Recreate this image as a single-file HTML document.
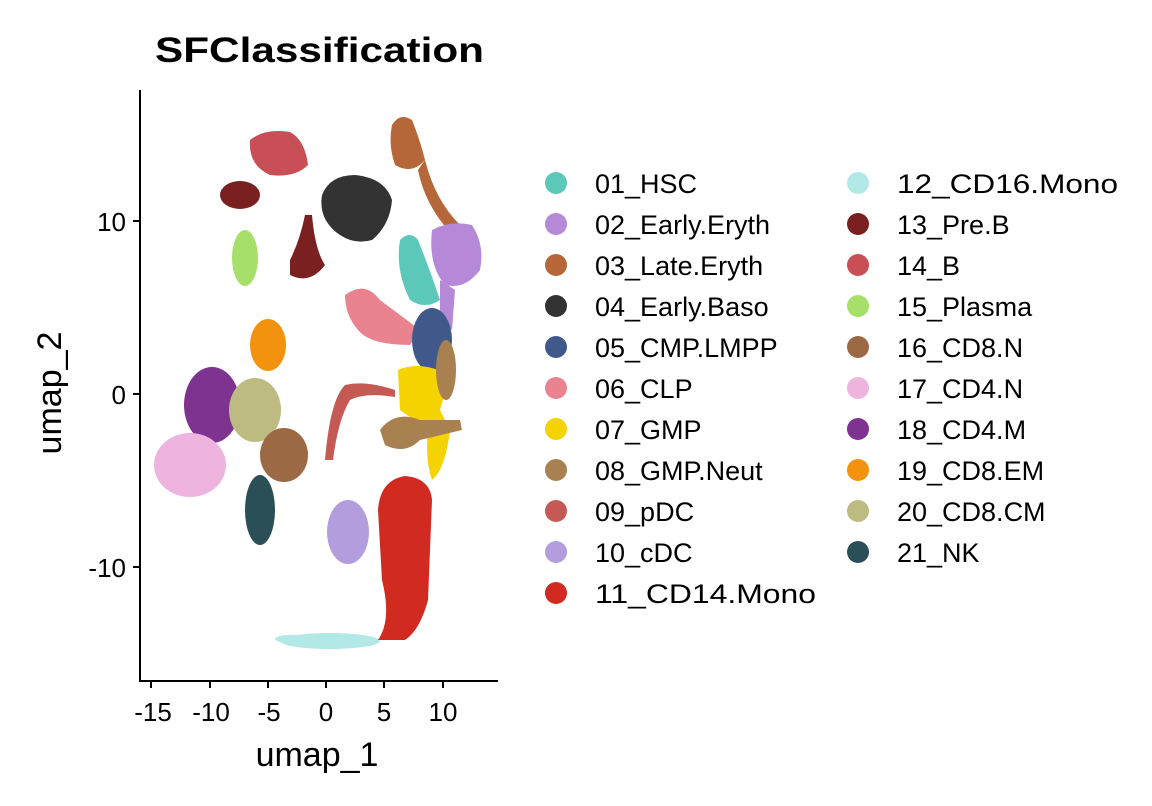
<!DOCTYPE html>
<html><head><meta charset="utf-8"><style>
html,body{margin:0;padding:0;background:#fff;}
svg{display:block;font-family:"Liberation Sans",Arial,sans-serif;}
</style></head><body>
<svg width="1152" height="806" viewBox="0 0 1152 806">
<text x="155" y="62" font-size="35" font-weight="bold" fill="#000" textLength="329" lengthAdjust="spacingAndGlyphs">SFClassification</text>
<g>
<ellipse cx="330" cy="641" rx="50" ry="8" fill="#B2E8E5"/>
<ellipse cx="290" cy="639" rx="15" ry="4" fill="#B2E8E5"/>
<path d="M378,640 L405,640 Q420,630 428,600 L432,500 Q430,478 405,476 Q380,480 378,510 L382,580 Q392,620 378,640 Z" fill="#D12A20"/>
<ellipse cx="348" cy="532" rx="21" ry="32" fill="#B39DDC"/>
<path d="M392,125 Q400,112 412,120 Q420,140 425,160 Q412,175 395,165 Q388,145 392,125 Z" fill="#B5673A"/>
<path d="M425,160 Q435,200 460,225 L450,232 Q425,205 418,170 Z" fill="#B5673A"/>
<path d="M322,195 Q330,175 355,175 Q385,178 392,200 Q390,225 372,240 Q355,245 340,235 Q318,220 322,195 Z" fill="#333"/>
<path d="M432,230 Q450,220 472,225 Q485,245 480,270 Q465,290 445,285 Q428,265 432,230 Z" fill="#B688D8"/>
<path d="M440,280 L455,290 L452,330 L440,320 Z" fill="#B688D8"/>
<path d="M400,240 Q410,230 418,240 Q430,270 440,300 Q425,310 410,300 Q395,270 400,240 Z" fill="#5BC8BA"/>
<path d="M345,295 Q365,280 380,300 L420,330 L410,345 Q370,345 358,330 Q345,315 345,295 Z" fill="#E8838F"/>
<ellipse cx="432" cy="340" rx="20" ry="32" fill="#3F5A8A"/>
<path d="M398,370 Q420,360 450,375 L440,410 L450,430 Q445,470 432,480 Q425,460 428,430 L400,410 Z" fill="#F5D300"/>
<path d="M380,430 Q395,410 420,420 L460,420 L462,430 L420,440 Q405,455 385,445 Z" fill="#A98050"/>
<ellipse cx="446" cy="370" rx="10" ry="30" fill="#A98050"/>
<path d="M325,460 Q330,400 345,385 Q365,380 395,390 L395,397 Q365,392 350,400 Q338,420 333,460 Z" fill="#C55A55"/>
<path d="M250,140 Q265,128 290,132 Q305,140 308,165 Q295,178 270,175 Q248,165 250,140 Z" fill="#C84F55"/>
<ellipse cx="240" cy="195" rx="20" ry="14" fill="#7A2020"/>
<path d="M290,260 Q300,240 305,215 L312,215 Q315,250 325,265 Q310,285 290,275 Z" fill="#7A2020"/>
<ellipse cx="245" cy="258" rx="13" ry="28" fill="#A6E06A"/>
<ellipse cx="268" cy="345" rx="18" ry="26" fill="#F2920E"/>
<ellipse cx="212" cy="405" rx="28" ry="38" fill="#7E3390"/>
<ellipse cx="255" cy="410" rx="26" ry="32" fill="#BDBB82"/>
<ellipse cx="190" cy="465" rx="36" ry="32" fill="#EFB3E0"/>
<ellipse cx="284" cy="455" rx="24" ry="27" fill="#9B6A45"/>
<ellipse cx="260" cy="510" rx="15" ry="35" fill="#2A4F56"/>
</g>
<g stroke="#000" stroke-width="2" fill="none">
<line x1="140" y1="90" x2="140" y2="681"/>
<line x1="139" y1="681" x2="498" y2="681"/>
<line x1="133" y1="221" x2="140" y2="221"/>
<line x1="133" y1="394" x2="140" y2="394"/>
<line x1="133" y1="567" x2="140" y2="567"/>
<line x1="151" y1="681" x2="151" y2="688"/>
<line x1="210" y1="681" x2="210" y2="688"/>
<line x1="268" y1="681" x2="268" y2="688"/>
<line x1="326" y1="681" x2="326" y2="688"/>
<line x1="384" y1="681" x2="384" y2="688"/>
<line x1="443" y1="681" x2="443" y2="688"/>
</g>
<g font-size="26" fill="#000" text-anchor="end">
<text x="126" y="231">10</text><text x="126" y="404">0</text><text x="126" y="577">-10</text>
</g>
<g font-size="26" fill="#000" text-anchor="middle">
<text x="153" y="721">-15</text><text x="211" y="721">-10</text><text x="269" y="721">-5</text>
<text x="326" y="721">0</text><text x="384" y="721">5</text><text x="443" y="721">10</text>
<text x="317" y="766" font-size="34">umap_1</text>
<text transform="translate(61,393) rotate(-90)" font-size="34">umap_2</text>
</g>
<g font-size="27" fill="#000">
<circle cx="556" cy="183" r="11" fill="#5BC8BA"/><text x="595" y="193">01_HSC</text>
<circle cx="556" cy="224" r="11" fill="#B688D8"/><text x="595" y="234">02_Early.Eryth</text>
<circle cx="556" cy="265" r="11" fill="#B5673A"/><text x="595" y="275">03_Late.Eryth</text>
<circle cx="556" cy="306" r="11" fill="#333333"/><text x="595" y="316">04_Early.Baso</text>
<circle cx="556" cy="347" r="11" fill="#3F5A8A"/><text x="595" y="357">05_CMP.LMPP</text>
<circle cx="556" cy="388" r="11" fill="#E8838F"/><text x="595" y="398">06_CLP</text>
<circle cx="556" cy="429" r="11" fill="#F5D300"/><text x="595" y="439">07_GMP</text>
<circle cx="556" cy="470" r="11" fill="#A98050"/><text x="595" y="480">08_GMP.Neut</text>
<circle cx="556" cy="511" r="11" fill="#C55A55"/><text x="595" y="521">09_pDC</text>
<circle cx="556" cy="552" r="11" fill="#B39DDC"/><text x="595" y="562">10_cDC</text>
<circle cx="556" cy="593" r="11" fill="#D12A20"/><text x="595" y="603" textLength="221" lengthAdjust="spacingAndGlyphs">11_CD14.Mono</text>
<circle cx="858" cy="183" r="11" fill="#B2E8E5"/><text x="897" y="193" textLength="221" lengthAdjust="spacingAndGlyphs">12_CD16.Mono</text>
<circle cx="858" cy="224" r="11" fill="#7A2020"/><text x="897" y="234">13_Pre.B</text>
<circle cx="858" cy="265" r="11" fill="#C84F55"/><text x="897" y="275">14_B</text>
<circle cx="858" cy="306" r="11" fill="#A6E06A"/><text x="897" y="316">15_Plasma</text>
<circle cx="858" cy="347" r="11" fill="#9B6A45"/><text x="897" y="357">16_CD8.N</text>
<circle cx="858" cy="388" r="11" fill="#EFB3E0"/><text x="897" y="398">17_CD4.N</text>
<circle cx="858" cy="429" r="11" fill="#7E3390"/><text x="897" y="439">18_CD4.M</text>
<circle cx="858" cy="470" r="11" fill="#F2920E"/><text x="897" y="480">19_CD8.EM</text>
<circle cx="858" cy="511" r="11" fill="#BDBB82"/><text x="897" y="521">20_CD8.CM</text>
<circle cx="858" cy="552" r="11" fill="#2A4F56"/><text x="897" y="562">21_NK</text>
</g>
</svg>
</body></html>
